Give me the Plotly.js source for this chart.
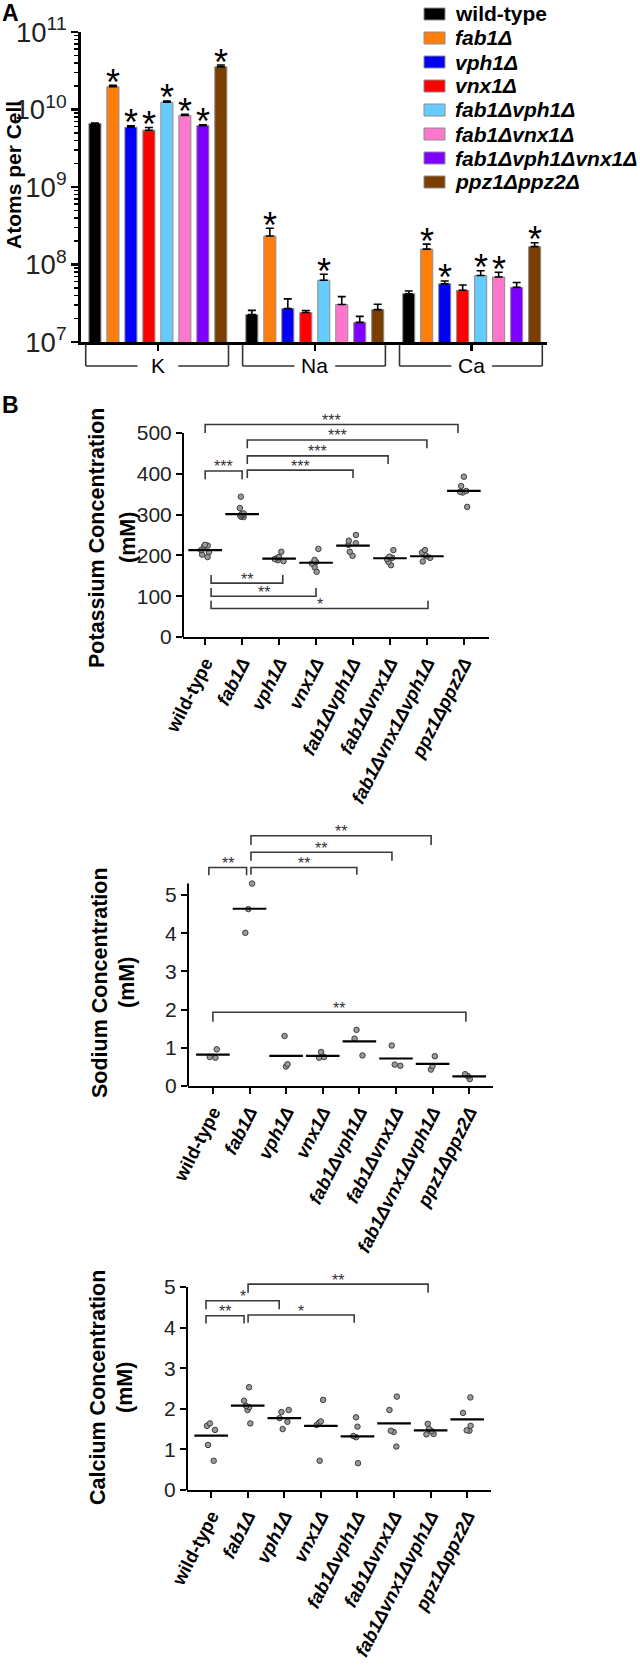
<!DOCTYPE html>
<html><head><meta charset="utf-8">
<script src="https://cdn.plot.ly/plotly-3.0.1.min.js"></script>
<style>html,body{margin:0;padding:0;background:#fff;}#chart{width:640px;height:1665px;}</style>
</head><body><div id="chart"></div>
<script>
// ---------- Panel A data ----------
const strains = ['wild-type','fab1Δ','vph1Δ','vnx1Δ','fab1Δvph1Δ','fab1Δvnx1Δ','fab1Δvph1Δvnx1Δ','ppz1Δppz2Δ'];
const barColors = ['#000000','#FF7F0E','#0000F5','#FF0000','#66CCFF','#FF77CC','#8000FF','#7A3E00'];
const elements = ['K','Na','Ca'];
const atomsK  = [6.6e9, 1.97e10, 5.9e9, 5.4e9, 1.24e10, 8.4e9, 6.2e9, 3.55e10];
const atomsNa = [2.26e7, 2.33e8, 2.7e7, 2.4e7, 6.27e7, 3.05e7, 1.79e7, 2.62e7];
const atomsCa = [4.2e7, 1.58e8, 5.63e7, 4.65e7, 7.2e7, 6.9e7, 5.07e7, 1.7e8];
const errK  = [0.1e9, 0.9e9, 0.25e9, 0.45e9, 0.5e9, 0.3e9, 0.15e9, 2.0e9];
const errNa = [0.3e7, 0.6e8, 0.9e7, 0.15e7, 1.2e7, 0.8e7, 0.35e7, 0.45e7];
const errCa = [0.35e7, 0.25e8, 0.5e7, 0.8e7, 1.1e7, 1.05e7, 0.8e7, 0.21e8];
const sigK  = [0,1,1,1,1,1,1,1];
const sigNa = [0,1,0,0,1,0,0,0];
const sigCa = [0,1,1,0,1,1,0,1];

// ---------- Panel B data ----------
const strainsB = ['wild-type','fab1Δ','vph1Δ','vnx1Δ','fab1Δvph1Δ','fab1Δvnx1Δ','fab1Δvnx1Δvph1Δ','ppz1Δppz2Δ'];
const potassium = [
  [226,224,222,213,208,202,196],
  [344,316,303,301,299,297,295,294],
  [209,196,194,191,188,186],
  [216,189,184,180,171,160],
  [250,236,230,226,209,199],
  [213,197,194,191,184,176],
  [213,207,201,198,194,185],
  [393,370,358,356,354,319]
];
const potassiumLine = [213,301,192,182,224,193,198,358];
const sodium = [
  [0.96,0.76,0.74],
  [5.3,4.63,4.01],
  [1.31,0.57,0.51],
  [0.89,0.76,0.74],
  [1.47,1.24,0.8],
  [1.06,0.56,0.53],
  [0.78,0.52,0.43],
  [0.31,0.26,0.18]
];
const sodiumLine = [0.82,4.64,0.79,0.79,1.17,0.72,0.58,0.25];
const calcium = [
  [1.64,1.58,1.48,1.11,0.72],
  [2.53,2.2,2.07,2.04,1.97,1.64],
  [1.97,1.92,1.77,1.68,1.5],
  [2.22,1.69,1.66,1.6,0.72],
  [1.79,1.56,1.33,1.3,0.66],
  [2.3,1.97,1.46,1.43,1.07],
  [1.63,1.5,1.45,1.38,1.37],
  [2.28,1.9,1.58,1.47,1.46]
];
const calciumLine = [1.34,2.08,1.77,1.58,1.32,1.64,1.47,1.74];
// significance brackets: [from, to, level, leg end, label]
const potassiumBrackets = [
  [0,6.84,521,500,'***'],
  [1.14,6.0,483,463,'***'],
  [1.14,4.95,444,424,'***'],
  [1.14,4.0,409,390,'***'],
  [0,1.0,407,387,'***'],
  [0.16,2.1,132,152,'**'],
  [0.16,3.0,100,120,'**'],
  [0.16,6.03,70,89,'*']
];
const sodiumBrackets = [
  [-0.11,0.92,5.72,5.52,'**'],
  [1.04,3.93,5.72,5.53,'**'],
  [1.04,4.89,6.12,5.9,'**'],
  [1.04,5.96,6.55,6.31,'**'],
  [0,6.91,1.93,1.68,'**']
];
const calciumBrackets = [
  [-0.14,0.9,4.29,4.1,'**'],
  [-0.14,1.86,4.66,4.45,'*'],
  [1.01,3.91,4.31,4.12,'*'],
  [1.01,5.93,5.07,4.86,'**']
];

// ---------- helpers ----------
const W = 640, H = 1665;
const FONT = 'Liberation Sans, Arial, Helvetica, sans-serif';
const px = v => v / W;
const py = v => 1 - v / H;
const label = s => s === 'wild-type' ? '<b>wild-type</b>' : '<b><i>' + s + '</i></b>';

const traces = [];
const annotations = [];
const shapes = [];

// ---------- Panel A ----------
const BARGAP = 0.083;
const atomsByStrain = strains.map((s, i) => [atomsK[i], atomsNa[i], atomsCa[i]]);
const errByStrain = strains.map((s, i) => [errK[i], errNa[i], errCa[i]]);
const sigByStrain = strains.map((s, i) => [sigK[i], sigNa[i], sigCa[i]]);
strains.forEach((s, i) => {
  traces.push({
    type: 'bar', name: s, x: [0, 1, 2], y: atomsByStrain[i], showlegend: false,
    marker: {color: barColors[i], line: {color: '#8c8c8c', width: 1}},
    error_y: {type: 'data', symmetric: false, array: errByStrain[i], arrayminus: [0, 0, 0],
              color: '#000', thickness: 1.6, width: 4},
    xaxis: 'x', yaxis: 'y', hoverinfo: 'skip'
  });
  const slot = (1 - BARGAP) / strains.length;
  [0, 1, 2].forEach(g => {
    if (sigByStrain[i][g]) {
      annotations.push({
        xref: 'x', yref: 'y', x: g - (1 - BARGAP) / 2 + (i + 0.5) * slot,
        y: Math.log10(atomsByStrain[i][g] + errByStrain[i][g]),
        text: '*', showarrow: false, yanchor: 'middle', xanchor: 'center', yshift: 3,
        font: {size: 36, color: '#000', family: FONT}
      });
    }
  });
  // legend entry (swatch + label)
  const ly = 14 + 24 * i;
  shapes.push({type: 'rect', xref: 'paper', yref: 'paper', x0: px(424), x1: px(445), y0: py(ly + 6), y1: py(ly - 6),
    fillcolor: barColors[i], line: {color: '#8c8c8c', width: 1}});
  annotations.push({xref: 'paper', yref: 'paper', x: px(453), y: py(ly), text: label(s), showarrow: false,
    xanchor: 'left', yanchor: 'middle', font: {size: 21, color: '#000', family: FONT}});
});
elements.forEach((el, g) => {
  annotations.push({xref: 'x', yref: 'paper', x: g, y: py(366), text: el, showarrow: false,
    xanchor: 'center', yanchor: 'middle', font: {size: 21, color: '#000', family: FONT}});
  const L = g - 0.46, R = g + 0.45, gl = g - 0.13, gr = g + 0.13;
  const top = py(345), bot = py(366);
  [[L, top, L, bot], [L, bot, gl, bot], [gr, bot, R, bot], [R, bot, R, top]].forEach(c => {
    shapes.push({type: 'line', xref: 'x', yref: 'paper', x0: c[0], y0: c[1], x1: c[2], y1: c[3],
      line: {color: '#333', width: 1.6}});
  });
});

// ---------- Panel B ----------
function stripPanel(points, lines, brackets, xa, ya) {
  const xs = [], ys = [];
  points.forEach((arr, i) => arr.forEach(v => { xs.push(i); ys.push(v); }));
  traces.push({type: 'box', x: xs, y: ys, boxpoints: 'all', jitter: 0.55, pointpos: 0,
    fillcolor: 'rgba(0,0,0,0)', line: {width: 0, color: 'rgba(0,0,0,0)'},
    marker: {size: 5.5, color: '#9a9a9a', line: {color: '#3c3c3c', width: 1}},
    xaxis: xa, yaxis: ya, showlegend: false, hoverinfo: 'skip'});
  traces.push({type: 'scatter', mode: 'markers', x: lines.map((v, i) => i), y: lines,
    marker: {symbol: 'line-ew', size: 24, color: '#000', line: {color: '#000', width: 2.2}},
    xaxis: xa, yaxis: ya, showlegend: false, hoverinfo: 'skip'});
  const bx = [], by = [];
  brackets.forEach(b => {
    bx.push(b[0], b[0], b[1], b[1], null);
    by.push(b[3], b[2], b[2], b[3], null);
    annotations.push({xref: xa, yref: ya, x: (b[0] + b[1]) / 2, y: b[2], text: b[4], showarrow: false,
      xanchor: 'center', yanchor: 'middle', yshift: 4, font: {size: 16, color: '#333', family: FONT}});
  });
  traces.push({type: 'scatter', mode: 'lines', x: bx, y: by, line: {color: '#3a3a3a', width: 1.6},
    xaxis: xa, yaxis: ya, showlegend: false, hoverinfo: 'skip'});
}
stripPanel(potassium, potassiumLine, potassiumBrackets, 'x2', 'y2');
stripPanel(sodium, sodiumLine, sodiumBrackets, 'x3', 'y3');
stripPanel(calcium, calciumLine, calciumBrackets, 'x4', 'y4');

function catAxis(domain, range, anchor) {
  return {domain: domain, range: range, anchor: anchor, showline: true, linewidth: 2, linecolor: '#000',
    ticks: 'outside', ticklen: 6, tickwidth: 2, tickcolor: '#000',
    tickvals: strainsB.map((s, i) => i), ticktext: strainsB.map(label), tickangle: -63,
    tickfont: {size: 18.5, color: '#000', family: FONT}, showgrid: false, zeroline: false};
}
function valAxis(domain, range, anchor, tickvals) {
  return {domain: domain, range: range, anchor: anchor, showline: false,
    ticks: 'outside', ticklen: 6, tickwidth: 2, tickcolor: '#000', tickvals: tickvals,
    tickfont: {size: 21, color: '#222', family: FONT}, showgrid: false, zeroline: false};
}
const yAxisTops = [['y2', 183, 500], ['y3', 188, 5.3], ['y4', 187, 5]];
yAxisTops.forEach(a => shapes.push({type: 'line', xref: 'paper', yref: a[0], x0: px(a[1]), x1: px(a[1]),
  y0: 0, y1: a[2], line: {color: '#000', width: 2}}));

// axis titles & panel letters
[['Atoms per Cell', 14, 175, 21],
 ['Potassium Concentration', 97, 538, 21.5], ['(mM)', 128, 538, 21.5],
 ['Sodium Concentration', 100, 983, 21.5], ['(mM)', 127, 983, 21.5],
 ['Calcium Concentration', 98, 1388, 21.5], ['(mM)', 125, 1388, 21.5]].forEach(t => {
  annotations.push({xref: 'paper', yref: 'paper', x: px(t[1]), y: py(t[2]), text: '<b>' + t[0] + '</b>',
    textangle: -90, showarrow: false, xanchor: 'center', yanchor: 'middle',
    font: {size: t[3], color: '#000', family: FONT}});
});
[['A', 10, 13], ['B', 10, 405]].forEach(t => {
  annotations.push({xref: 'paper', yref: 'paper', x: px(t[1]), y: py(t[2]), text: '<b>' + t[0] + '</b>',
    showarrow: false, xanchor: 'center', yanchor: 'middle', font: {size: 23, color: '#000', family: FONT}});
});

const layout = {
  width: W, height: H, margin: {l: 0, r: 0, t: 0, b: 0},
  paper_bgcolor: '#fff', plot_bgcolor: 'rgba(0,0,0,0)',
  font: {family: FONT, color: '#000'},
  barmode: 'group', bargap: BARGAP, bargroupgap: 0.33,
  showlegend: false,
  xaxis: {domain: [px(81), px(547)], range: [-0.49, 2.48], anchor: 'y', showline: true, linewidth: 3,
          linecolor: '#000', ticks: 'outside', ticklen: 6, tickwidth: 2.5, tickcolor: '#000',
          tickvals: [0, 1, 2], showticklabels: false, showgrid: false, zeroline: false},
  yaxis: {domain: [py(342), py(32)], type: 'log', range: [7, 11], dtick: 1, exponentformat: 'power',
          anchor: 'x', showline: true, linewidth: 3, linecolor: '#000', ticks: 'outside', ticklen: 7,
          tickwidth: 2.5, tickcolor: '#000', tickfont: {size: 22, color: '#222', family: FONT},
          minor: {ticks: 'outside', ticklen: 4, tickwidth: 1.5, tickcolor: '#000', dtick: 'D1', showgrid: false},
          showgrid: false, zeroline: false},
  xaxis2: catAxis([px(183), px(489)], [-0.6, 7.68], 'y2'),
  yaxis2: valAxis([py(637), py(420.8)], [0, 530], 'x2', [0, 100, 200, 300, 400, 500]),
  xaxis3: catAxis([px(188), px(493)], [-0.68, 7.65], 'y3'),
  yaxis3: valAxis([py(1086), py(832)], [0, 6.65], 'x3', [0, 1, 2, 3, 4, 5]),
  xaxis4: catAxis([px(187), px(491)], [-0.66, 7.65], 'y4'),
  yaxis4: valAxis([py(1490), py(1280.9)], [0, 5.15], 'x4', [0, 1, 2, 3, 4, 5]),
  annotations: annotations, shapes: shapes
};
Plotly.newPlot('chart', traces, layout, {staticPlot: true, displayModeBar: false});
</script></body></html>
